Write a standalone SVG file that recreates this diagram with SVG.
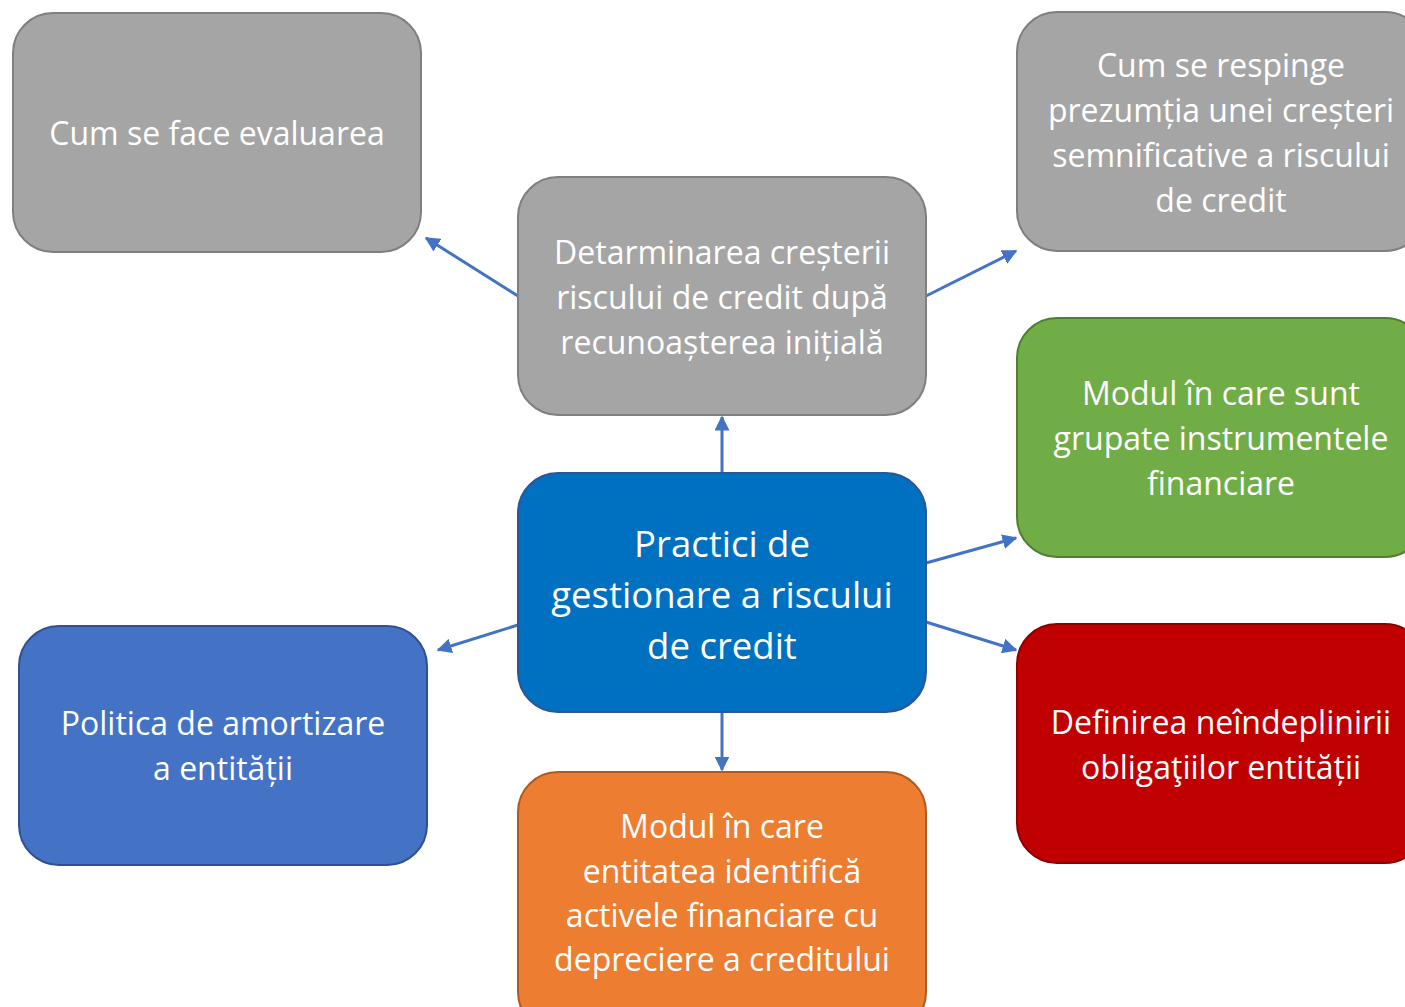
<svg xmlns="http://www.w3.org/2000/svg" width="1405" height="1007" viewBox="0 0 1405 1007">
<style>
.box{stroke-width:2}
.t{font-family:"Open Sans","Noto Sans","Liberation Sans",sans-serif;fill:#fff;text-anchor:middle;font-size:32px}
.tb{font-size:36.5px}
.c{stroke:#4472c4;stroke-width:3;fill:none;marker-end:url(#ah)}
</style>
<defs>
<marker id="ah" viewBox="0 0 10 10" refX="9" refY="5" markerWidth="5" markerHeight="5" orient="auto" markerUnits="strokeWidth">
<path d="M0,0L10,5L0,10z" fill="#4472c4"/>
</marker>
</defs>
<rect width="1405" height="1007" fill="#fff"/>
<g id="connectors">
<line class="c" x1="518" y1="296" x2="426" y2="238"/>
<line class="c" x1="926" y1="296" x2="1016" y2="251"/>
<line class="c" x1="722" y1="473" x2="722" y2="417"/>
<line class="c" x1="926" y1="563" x2="1016" y2="538"/>
<line class="c" x1="926" y1="622" x2="1016" y2="650"/>
<line class="c" x1="518" y1="625" x2="438" y2="650"/>
<line class="c" x1="722" y1="712" x2="722" y2="770"/>
</g>
<g id="n1">
<rect class="box" x="13" y="13" width="408" height="239" rx="40" fill="#a5a5a5" stroke="#7f7f7f"/>
<text class="t" x="217" y="145">Cum se face evaluarea</text>
</g>
<g id="n2">
<rect class="box" x="518" y="177" width="408" height="238" rx="40" fill="#a5a5a5" stroke="#7f7f7f"/>
<text class="t" x="722" y="264">Detarminarea creșterii</text>
<text class="t" x="722" y="309">riscului de credit după</text>
<text class="t" x="722" y="354">recunoașterea inițială</text>
</g>
<g id="n3">
<rect class="box" x="1017" y="12" width="408" height="239" rx="40" fill="#a5a5a5" stroke="#7f7f7f"/>
<text class="t" x="1221" y="77">Cum se respinge</text>
<text class="t" x="1221" y="122">prezumția unei creșteri</text>
<text class="t" x="1221" y="167">semnificative a riscului</text>
<text class="t" x="1221" y="212">de credit</text>
</g>
<g id="n4">
<rect class="box" x="1017" y="318" width="408" height="239" rx="40" fill="#70ad47" stroke="#507e32"/>
<text class="t" x="1221" y="405">Modul în care sunt</text>
<text class="t" x="1221" y="450">grupate instrumentele</text>
<text class="t" x="1221" y="495">financiare</text>
</g>
<g id="n5">
<rect class="box" x="518" y="473" width="408" height="239" rx="40" fill="#0070c0" stroke="#2f5597"/>
<text class="t tb" x="722" y="557">Practici de</text>
<text class="t tb" x="722" y="608">gestionare a riscului</text>
<text class="t tb" x="722" y="659">de credit</text>
</g>
<g id="n6">
<rect class="box" x="19" y="626" width="408" height="239" rx="40" fill="#4472c4" stroke="#2f528f"/>
<text class="t" x="223" y="735">Politica de amortizare</text>
<text class="t" x="223" y="780">a entității</text>
</g>
<g id="n7">
<rect class="box" x="1017" y="624" width="408" height="239" rx="40" fill="#c00000" stroke="#8f0000"/>
<text class="t" x="1221" y="734">Definirea neîndeplinirii</text>
<text class="t" x="1221" y="779">obligaţiilor entității</text>
</g>
<g id="n8">
<rect class="box" x="518" y="772" width="408" height="260" rx="40" fill="#ed7d31" stroke="#ae5a21"/>
<text class="t" x="722" y="838">Modul în care</text>
<text class="t" x="722" y="883">entitatea identifică</text>
<text class="t" x="722" y="927">activele financiare cu</text>
<text class="t" x="722" y="971">depreciere a creditului</text>
</g>
</svg>
